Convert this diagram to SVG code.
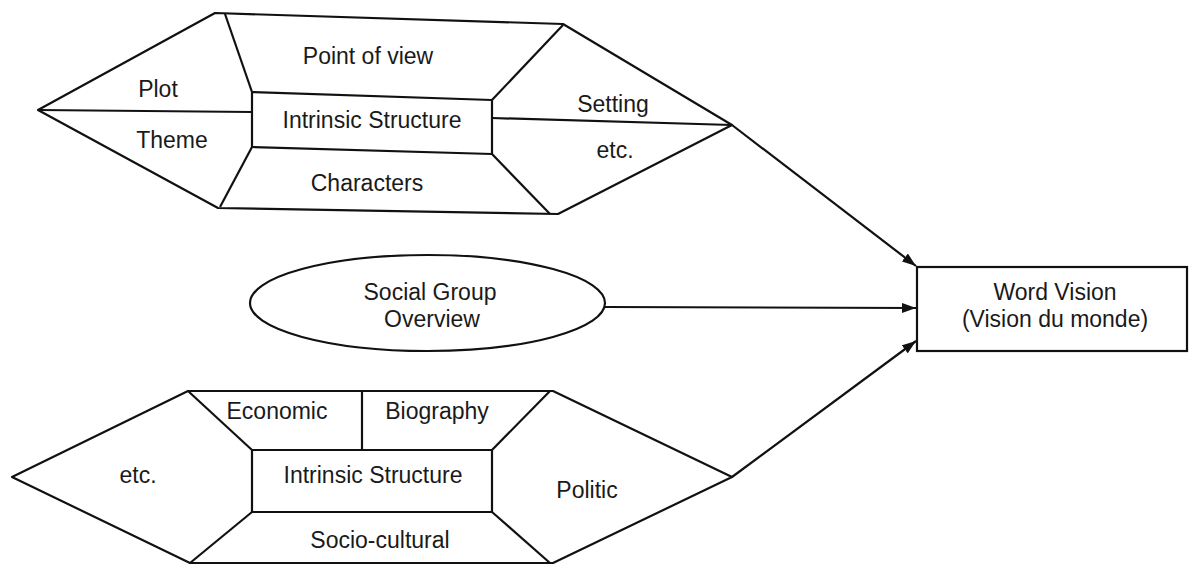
<svg xmlns="http://www.w3.org/2000/svg" width="1189" height="567" viewBox="0 0 1189 567">
  <style>
    .shape { fill: none; stroke: #111; stroke-width: 2.2; stroke-linejoin: round; }
    .box { fill: #fff; stroke: #111; stroke-width: 2.2; }
    .label { font-family: "Liberation Sans", Arial, sans-serif; font-size: 23px; fill: #1a1a1a; text-anchor: middle; }
    .conn { fill: none; stroke: #111; stroke-width: 2.2; }
  </style>
  <defs>
    <marker id="arrow" viewBox="0 0 14 10" refX="14" refY="5" markerWidth="14" markerHeight="10" markerUnits="userSpaceOnUse" orient="auto">
      <path d="M0,0 L14,5 L0,10 Z" fill="#111"/>
    </marker>
  </defs>
  <rect width="1189" height="567" fill="#fff"/>

  <!-- Upper hexagon: intrinsic elements of the text -->
  <g id="intrinsic-top">
    <polygon class="shape" points="38,110 215,13 563,24 732,125 558,214 218,208"/>
    <polygon class="shape" points="252,92 492,100 492,154 252,147"/>
    <line class="shape" x1="225" y1="14" x2="252" y2="92"/>
    <line class="shape" x1="252" y1="147" x2="220" y2="207"/>
    <line class="shape" x1="38" y1="110" x2="252" y2="112"/>
    <line class="shape" x1="492" y1="100" x2="563" y2="25"/>
    <line class="shape" x1="492" y1="154" x2="550" y2="214"/>
    <line class="shape" x1="492" y1="118" x2="732" y2="125"/>
    <text class="label" x="368" y="64">Point of view</text>
    <text class="label" x="158" y="97">Plot</text>
    <text class="label" x="172" y="148">Theme</text>
    <text class="label" x="372" y="128">Intrinsic Structure</text>
    <text class="label" x="613" y="112">Setting</text>
    <text class="label" x="615" y="158">etc.</text>
    <text class="label" x="367" y="191">Characters</text>
  </g>

  <!-- Social group ellipse -->
  <g id="social-group">
    <ellipse class="shape" cx="427.5" cy="303" rx="177.5" ry="48"/>
    <text class="label" x="430" y="300">Social Group</text>
    <text class="label" x="432" y="327">Overview</text>
  </g>

  <!-- Lower hexagon -->
  <g id="intrinsic-bottom">
    <polygon class="shape" points="12,477 188,391 553,391 732,477 553,563 190,563"/>
    <rect class="shape" x="252" y="450" width="240" height="62"/>
    <line class="shape" x1="188" y1="391" x2="252" y2="450"/>
    <line class="shape" x1="252" y1="512" x2="190" y2="563"/>
    <line class="shape" x1="492" y1="450" x2="550" y2="391"/>
    <line class="shape" x1="492" y1="512" x2="550" y2="563"/>
    <line class="shape" x1="362" y1="391" x2="362" y2="450"/>
    <text class="label" x="277" y="419">Economic</text>
    <text class="label" x="437" y="419">Biography</text>
    <text class="label" x="373" y="483">Intrinsic Structure</text>
    <text class="label" x="138" y="483">etc.</text>
    <text class="label" x="587" y="498">Politic</text>
    <text class="label" x="380" y="548">Socio-cultural</text>
  </g>

  <!-- Result box -->
  <g id="world-vision">
    <rect class="box" x="917" y="267" width="270" height="84"/>
    <text class="label" x="1055" y="300">Word Vision</text>
    <text class="label" x="1055" y="327">(Vision du monde)</text>
  </g>

  <!-- Connectors -->
  <g id="connectors">
    <line class="conn" x1="732" y1="125" x2="916" y2="266" marker-end="url(#arrow)"/>
    <line class="conn" x1="605" y1="307" x2="916" y2="308" marker-end="url(#arrow)"/>
    <line class="conn" x1="732" y1="477" x2="916" y2="341" marker-end="url(#arrow)"/>
  </g>
</svg>
